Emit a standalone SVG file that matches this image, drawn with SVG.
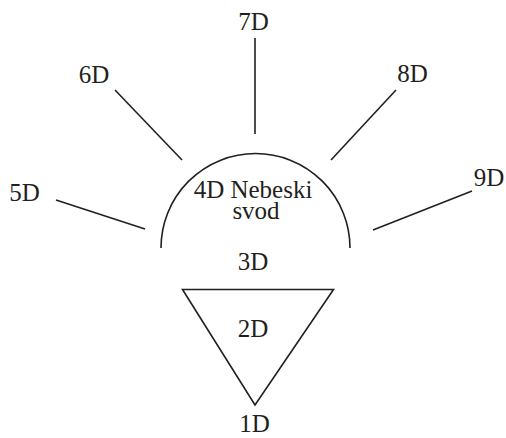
<svg xmlns="http://www.w3.org/2000/svg" width="506" height="438" viewBox="0 0 506 438">
<style>
.t{font-family:"Liberation Serif","DejaVu Serif",serif;font-size:25px;fill:#231f20;text-anchor:middle}
.l{stroke:#231f20;stroke-width:1.6;fill:none}
</style>
<rect width="506" height="438" fill="#fff"/>
<g id="connectors">
<line class="l" x1="255" y1="38" x2="255" y2="134"/>
<line class="l" x1="115" y1="90" x2="182" y2="160"/>
<line class="l" x1="396" y1="90" x2="331" y2="160"/>
<line class="l" x1="56" y1="200" x2="145" y2="229"/>
<line class="l" x1="472" y1="191" x2="373" y2="230"/>
</g>
<g id="node-4d">
<path class="l" d="M161,248 A94.5,94.5 0 0 1 350,248"/>
<text class="t" x="253" y="198">4D Nebeski</text>
<text class="t" x="256" y="219">svod</text>
</g>
<g id="node-3d"><text class="t" x="253" y="270">3D</text></g>
<g id="node-2d">
<polygon class="l" points="182.5,289.5 333.5,289.5 255,405"/>
<text class="t" x="253" y="337">2D</text>
</g>
<g id="node-1d"><text class="t" x="254.5" y="432">1D</text></g>
<g id="node-5d"><text class="t" x="24.5" y="201">5D</text></g>
<g id="node-6d"><text class="t" x="94" y="83">6D</text></g>
<g id="node-7d"><text class="t" x="253.5" y="30">7D</text></g>
<g id="node-8d"><text class="t" x="412.5" y="82">8D</text></g>
<g id="node-9d"><text class="t" x="489" y="186">9D</text></g>
</svg>
